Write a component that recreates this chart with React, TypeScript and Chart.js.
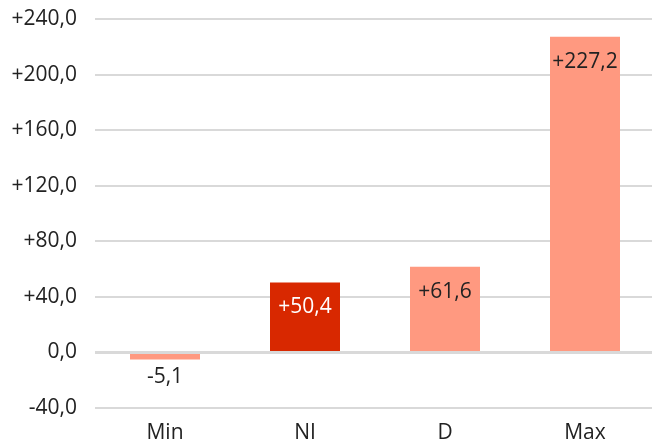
import React, { useEffect, useRef } from "react";
import { Chart, registerables } from "chart.js";

Chart.register(...registerables);

const categories = ["Min", "NI", "D", "Max"];
const values = [-5.1, 50.4, 61.6, 227.2];
const barColors = ["#FF9980", "#D82800", "#FF9980", "#FF9980"];
const labelColors = ["#222222", "#FFFFFF", "#222222", "#222222"];
const yMin = -40;
const yMax = 240;
const yStep = 40;

const FONT = '"Open Sans", "Noto Sans", sans-serif';
const FS = 21;

function fmt(v: number): string {
  const s = Math.abs(v).toFixed(1).replace(".", ",");
  if (v > 0) return "+" + s;
  if (v < 0) return "-" + s;
  return s;
}

const labelPlugin = {
  id: "barLabels",
  afterDatasetsDraw(chart: any) {
    const ctx = chart.ctx;
    const meta = chart.getDatasetMeta(0);
    ctx.save();
    ctx.font = `${FS}px ${FONT}`;
    ctx.textAlign = "center";
    ctx.textBaseline = "middle";
    meta.data.forEach((el: any, i: number) => {
      const v = values[i];
      const { x, y } = el.getProps(["x", "y"], true);
      ctx.fillStyle = labelColors[i];
      if (v >= 0) {
        ctx.fillText(fmt(v), x, y + 25);
      } else {
        ctx.fillText(fmt(v), x, y + 18);
      }
    });
    ctx.restore();
  },
};

export default function App() {
  const ref = useRef<HTMLCanvasElement | null>(null);
  useEffect(() => {
    if (!ref.current) return;
    const chart = new Chart(ref.current, {
      type: "bar",
      data: {
        labels: categories,
        datasets: [
          {
            data: values,
            backgroundColor: barColors,
            borderWidth: 0,
            barPercentage: 0.5,
            categoryPercentage: 1,
          },
        ],
      },
      options: {
        animation: false,
        responsive: false,
        maintainAspectRatio: false,
        layout: { padding: { top: 19, right: 3, left: 0, bottom: 0 } },
        plugins: {
          legend: { display: false },
          tooltip: { enabled: false },
        },
        scales: {
          x: {
            grid: { display: false },
            border: { display: false },
            ticks: {
              color: "#222222",
              font: { family: FONT, size: FS },
              padding: 4,
            },
            afterFit: (s: any) => {
              s.height = 37;
              s.paddingLeft = 0;
              s.paddingRight = 0;
            },
          },
          y: {
            min: yMin,
            max: yMax,
            border: { display: false },
            grid: {
              drawTicks: false,
              color: "#D9D9D9",
              lineWidth: (c: any) => (c.tick && c.tick.value === 0 ? 3 : 2),
            },
            ticks: {
              stepSize: yStep,
              color: "#222222",
              font: { family: FONT, size: FS },
              padding: 18,
              callback: (v: any) => fmt(Number(v)),
            },
            afterFit: (s: any) => {
              s.width = 95;
              s.paddingTop = 0;
              s.paddingBottom = 0;
            },
          },
        },
      },
      plugins: [labelPlugin],
    });
    return () => chart.destroy();
  }, []);
  return (
    <div
      style={{
        position: "fixed",
        left: 0,
        top: 0,
        width: 652,
        height: 445,
        overflow: "hidden",
        background: "#fff",
      }}
    >
      <canvas ref={ref} width={658} height={445} style={{ display: "block" }} />
    </div>
  );
}
